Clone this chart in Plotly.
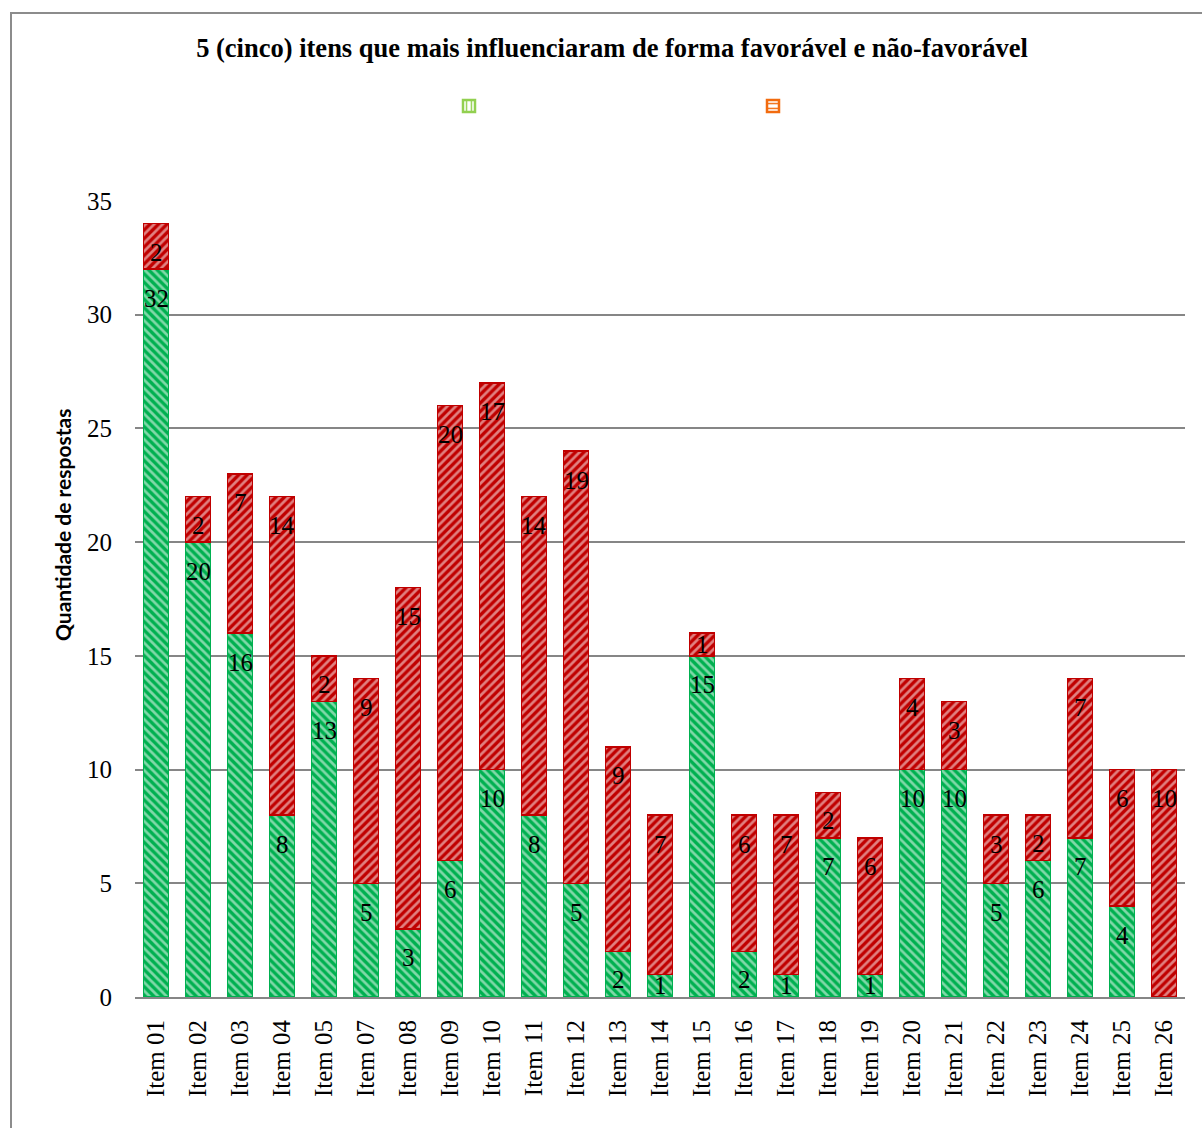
import plotly.graph_objects as go

items = ["Item 01", "Item 02", "Item 03", "Item 04", "Item 05", "Item 07", "Item 08",
         "Item 09", "Item 10", "Item 11", "Item 12", "Item 13", "Item 14", "Item 15",
         "Item 16", "Item 17", "Item 18", "Item 19", "Item 20", "Item 21", "Item 22",
         "Item 23", "Item 24", "Item 25", "Item 26"]
favoravel = [32, 20, 16, 8, 13, 5, 3, 6, 10, 8, 5, 2, 1, 15, 2, 1, 7, 1, 10, 10, 5, 6, 7, 4, 0]
nao_favoravel = [2, 2, 7, 14, 2, 9, 15, 20, 17, 14, 19, 9, 7, 1, 6, 7, 2, 6, 4, 3, 3, 2, 7, 6, 10]

y_ticks = [0, 5, 10, 15, 20, 25, 30, 35]
Y_MAX = 35

GREEN = "#00B050"
RED = "#C00000"
ORANGE = "#F26B0F"
LIGHT_GREEN = "#92D050"
SERIF = "Liberation Serif"

W, H = 1202, 1128
ML, MR, MT, MB = 135, 17, 201, 131
PW, PH = W - ML - MR, H - MT - MB
PPU = PH / Y_MAX


def px_x(p):
    return (p - ML) / PW


def px_y(p):
    return (H - MB - p) / PH


def label_shift(v):
    seg = v * PPU
    if seg >= 34:
        return -min(29, seg - 17)
    return -seg / 2


fig = go.Figure()
fig.add_trace(go.Bar(
    x=items, y=favoravel, name=" ", showlegend=False,
    marker=dict(color=GREEN, line=dict(color=GREEN, width=1.5),
                pattern=dict(shape="\\", size=6, solidity=0.45, fgcolor="white",
                             fillmode="overlay")),
    hoverinfo="skip",
))
fig.add_trace(go.Bar(
    x=items, y=nao_favoravel, name=" ", showlegend=False,
    marker=dict(color=RED, line=dict(color=RED, width=1.5),
                pattern=dict(shape="/", size=6, solidity=0.45, fgcolor="white",
                             fillmode="overlay")),
    hoverinfo="skip",
))
# legend swatches (no legend text in the original)
fig.add_trace(go.Bar(
    x=[None], y=[None], name=" ", showlegend=True,
    marker=dict(color=LIGHT_GREEN, line=dict(color=LIGHT_GREEN, width=2.5),
                pattern=dict(shape="|", size=6, solidity=0.3, fgcolor=LIGHT_GREEN,
                             bgcolor="white", fillmode="replace")),
))
fig.add_trace(go.Bar(
    x=[None], y=[None], name=" ", showlegend=True,
    marker=dict(color=ORANGE, line=dict(color=ORANGE, width=2.5),
                pattern=dict(shape="-", size=6, solidity=0.3, fgcolor=ORANGE,
                             bgcolor="white", fillmode="replace")),
))

# data labels (inside end of each segment)
for it, g, r in zip(items, favoravel, nao_favoravel):
    if g > 0:
        fig.add_annotation(x=it, y=g, text=str(g), showarrow=False, yanchor="middle",
                           yshift=label_shift(g),
                           font=dict(family=SERIF, size=25, color="black"))
    if r > 0:
        fig.add_annotation(x=it, y=g + r, text=str(r), showarrow=False, yanchor="middle",
                           yshift=label_shift(r),
                           font=dict(family=SERIF, size=25, color="black"))

# y-axis title (placed as in original, above plot centre)
fig.add_annotation(x=px_x(62), y=px_y(525), xref="paper", yref="paper",
                   text="<b>Quantidade de respostas</b>", textangle=-90, showarrow=False,
                   xanchor="center", yanchor="middle",
                   font=dict(family="Lato", size=21, color="black"))

# chart frame
fig.add_shape(type="rect", xref="paper", yref="paper",
              x0=px_x(11), x1=px_x(1215), y0=px_y(1140), y1=px_y(13),
              line=dict(color="#8C8C8C", width=2), fillcolor="rgba(0,0,0,0)", layer="below")

fig.update_layout(
    width=W, height=H,
    margin=dict(l=ML, r=MR, t=MT, b=MB),
    paper_bgcolor="white", plot_bgcolor="white",
    barmode="stack", bargap=0.4,
    title=dict(text="<b>5 (cinco) itens que mais influenciaram de forma favorável e não-favorável</b>",
               x=612 / W, xanchor="center", y=1 - 48 / H, yanchor="middle",
               font=dict(family=SERIF, size=26.5, color="black")),
    legend=dict(orientation="h", x=px_x(449), xanchor="left", y=px_y(106), yanchor="middle",
                entrywidth=259, entrywidthmode="pixels", font=dict(size=12),
                bgcolor="rgba(0,0,0,0)", traceorder="normal"),
    font=dict(family=SERIF, color="black"),
)
fig.update_xaxes(
    type="category", showline=True, linecolor="#868686", linewidth=2,
    tickangle=-90, tickfont=dict(family=SERIF, size=25, color="black"),
    ticks="", ticklabelstandoff=11, showgrid=False,
)
fig.update_yaxes(
    range=[0, Y_MAX], tickvals=y_ticks, showgrid=True, gridcolor="#868686", gridwidth=1.5,
    zeroline=False, showline=False, ticks="", ticklabelstandoff=22,
    tickfont=dict(family=SERIF, size=25, color="black"),
)

fig.write_html("out.html")
